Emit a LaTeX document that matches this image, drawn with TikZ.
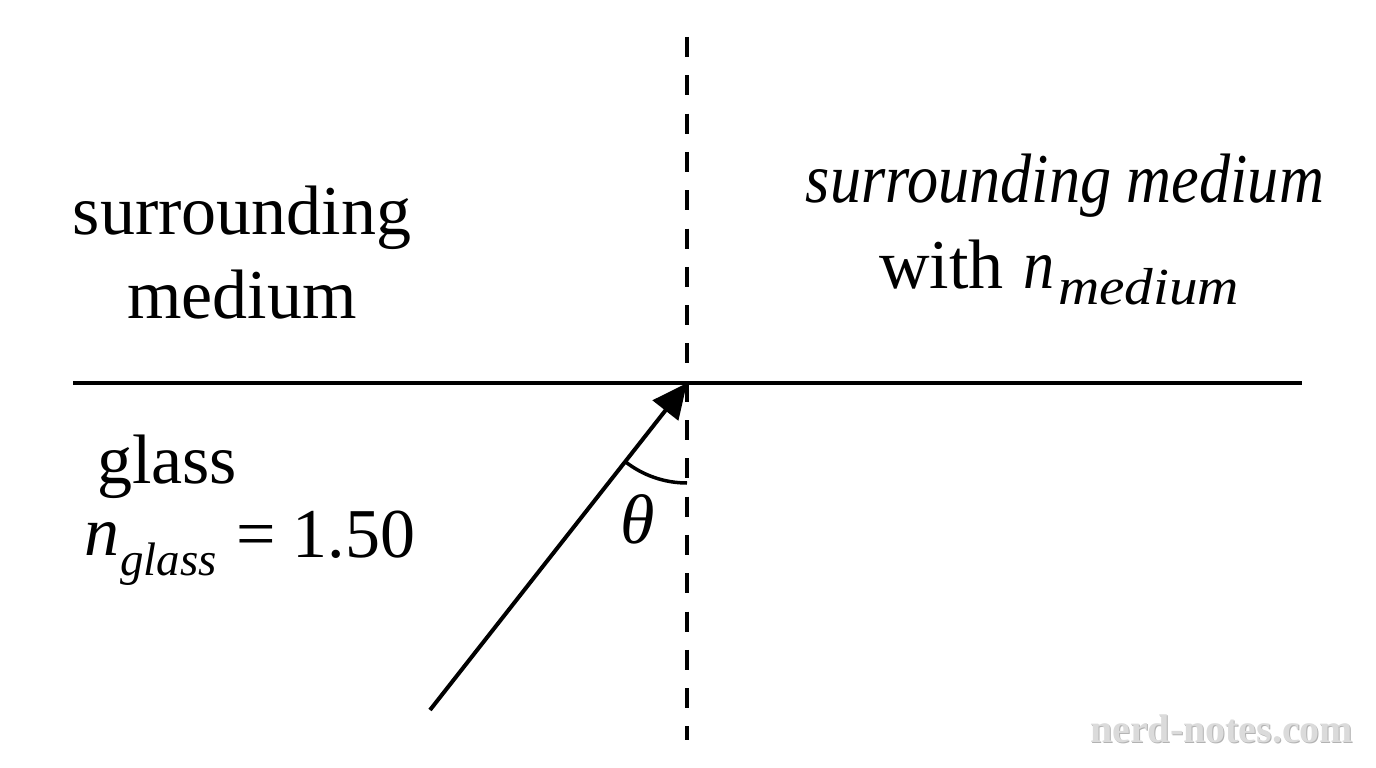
\documentclass[tikz,border=0pt]{standalone}
\usepackage{fontspec}
\setmainfont{Liberation Serif}
\usetikzlibrary{arrows.meta}
\begin{document}
\begin{tikzpicture}[x=1pt,y=-1pt,
  txt/.style={inner sep=0pt,outer sep=0pt,anchor=base},
  txtw/.style={inner sep=0pt,outer sep=0pt,anchor=base west},
  big/.style={font=\fontsize{70}{86}\selectfont},
  solidline/.style={line width=4pt},
  normalline/.style={dash pattern=on 20pt off 18.3pt,line width=4pt},
  ray/.style={line width=4pt,-{Triangle[length=35pt,width=32pt]}},
  anglearc/.style={line width=3.5pt}]
\useasboundingbox (0,0) rectangle (1376,768);
% coordinates
\coordinate (O) at (687,383);
\coordinate (hl) at (73,383);
\coordinate (hr) at (1302,383);
\coordinate (nt) at (687,37);
\coordinate (nb) at (687,740);
\coordinate (S) at (430,710);
% boundary and normal
\draw[solidline] (hl) -- (hr);
\draw[normalline] (nt) -- (nb);
% incident ray
\draw[ray] (S) -- (O);
% angle arc
\draw[anglearc] (O) ++(90:100) arc[start angle=90,end angle=128.2,radius=100];
% texts left top
\node[txt,big] (sur1) at (242,234) {surrounding};
\node[txt,big] (med1) at (242,318) {medium};
% right top
\node[txt,big] (sur2) at (1065,202) {\scalebox{0.889}[1]{\itshape surrounding medium}};
\node[txtw,big] (with) at (879,288) {with};
\node[txtw,big] (nmed) at (1023,288) {\scalebox{0.889}[1]{\itshape n}};
\node[txtw,font=\fontsize{52}{60}\selectfont] (submed) at (1058,304) {\scalebox{1.1}[1]{\itshape medium}};
% glass
\node[txtw,big] (glass) at (97,483) {glass};
\node[txtw,big] (ng) at (84,555) {\itshape n};
\node[txtw,font=\fontsize{47}{55}\selectfont] (subg) at (120,575) {\itshape glass};
\node[txtw,big] (eq) at (236,557) {= 1.50};
% theta
\node[txtw,big] (theta) at (620,543) {\itshape θ};
% watermark
\node[txtw,font=\fontsize{40}{48}\selectfont\bfseries,text=black!30] (wm0) at (1091,743) {nerd-notes.com};
\node[txtw,font=\fontsize{40}{48}\selectfont\bfseries,text=black!14] (wm) at (1090,742) {nerd-notes.com};
\end{tikzpicture}
\end{document}
